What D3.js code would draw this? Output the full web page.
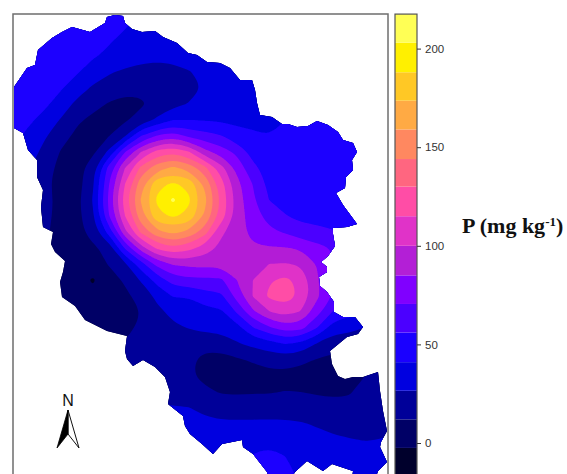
<!DOCTYPE html>
<html>
<head>
<meta charset="utf-8">
<script src="https://cdn.jsdelivr.net/npm/d3@7"></script>
<style>
body { margin: 0; background: #fff; }
svg { display: block; }
</style>
</head>
<body>
<svg id="viz"></svg>
<script>
// band edges of the colour key, mg/kg
const levelBreaks = [-17, -2.5, 12, 26.5, 41, 56, 70.5, 85, 100, 115, 130, 144, 159, 173.6, 188, 203, 217.5];
const bandColors = ['#00002c', '#000066', '#000099', '#0000e0', '#1a00ff', '#4b00ff', '#8000ff', '#b31fd6',
    '#e033c8', '#ff4da6', '#ff6680', '#ff8860', '#ffaa44', '#ffc825', '#fff000', '#ffff55'];
const keyTicks = [0, 50, 100, 150, 200];

// P on a regular grid, 16 map units apart, one line per row going south
const pGrid = [
    [50,50,50,50,50,49,47,44,42,41,40,40,40,40,40,40,40,40,40,40,40,40,40,40,40],
    [50,50,50,50,49,47,45,42,39,37,36,36,36,36,36,36,37,37,38,38,38,38,38,38,38],
    [50,50,50,48,47,45,42,39,37,35,34,34,34,35,35,35,36,36,37,38,38,38,38,38,38],
    [50,49,47,45,43,42,39,35,31,30,30,31,32,33,34,35,35,36,37,37,38,38,38,38,38],
    [50,47,45,43,42,36,28,24,22,21,23,26,29,31,33,34,35,35,36,37,38,38,38,38,38],
    [47,45,44,42,35,24,19,15,15,18,21,24,27,31,34,35,35,36,37,38,38,38,38,38,38],
    [46,44,43,36,22,16,11,9,10,17,22,27,31,33,34,35,36,37,38,39,40,40,40,40,40],
    [46,43,37,25,14,9,8,10,18,29,41,41,40,39,38,38,38,41,43,44,44,44,44,44,44],
    [44,38,28,17,9,7,12,26,56,72,79,67,62,57,46,43,41,44,45,46,46,46,46,46,46],
    [42,33,22,11,6,9,30,70,100,121,128,116,90,78,67,50,46,47,47,47,47,47,47,47,47],
    [40,28,16,9,5,22,62,100,134,152,162,153,134,106,80,60,49,48,48,48,48,48,48,48,48],
    [38,26,15,7,5,25,70,115,153,185,190,185,155,122,90,70,52,49,49,49,49,49,49,49,49],
    [35,24,15,9,8,28,75,124,160,190,206,190,163,127,93,73,56,50,49,49,49,49,49,49,49],
    [34,24,15,8,7,25,70,115,153,185,190,185,156,124,93,77,65,57,52,51,50,50,50,50,50],
    [33,23,14,7,6,19,47,96,133,155,163,155,136,103,92,80,74,69,62,60,57,54,53,52,52],
    [32,22,13,6,5,9,18,58,93,118,128,120,108,96,92,87,86,86,83,75,70,62,56,54,53],
    [31,21,12,5,4,5,13,24,50,75,87,89,90,89,90,92,100,101,98,84,70,62,56,54,53],
    [30,20,10,5,2,-4,6,14,28,47,63,67,67,68,85,100,113,119,110,87,70,62,56,54,53],
    [30,20,10,5,3,1,4,9,17,30,42,42,50,53,76,101,118,124,112,88,70,62,56,54,53],
    [30,20,10,6,4,3,4,8,12,23,30,33,36,38,58,82,99,106,99,76,55,45,44,44,44],
    [30,20,10,6,5,5,6,9,14,20,24,27,31,32,35,55,68,78,75,56,33,31,26,26,26],
    [30,20,12,8,8,9,10,13,16,18,18,17,15,17,25,30,34,41,38,25,18,17,17,18,18],
    [30,20,14,10,10,11,12,14,15,15,15,14,9,8,10,13.5,18,19,15,11,8,7,8,10,11],
    [30,20,15,12,12,13,14,14,15,15,15,14,8,5,5,6,7,7,7,7,6,6,12,16,17],
    [30,25,22,20,20,20,20,20,20,19,18,17,15,11,10.5,11,11,12.5,12,11,10.5,11,16,19,20],
    [30,29,29,29,29,29,29,29,29,29,28,27,22,20,19,20,20,20,18,16,15,15,19,22,23],
    [31,31,31,31,31,31,31,31,31,31,31,31,31,29,29,29,29,29,28,25,22,20,20,22,24],
    [33,33,33,33,33,33,33,33,33,33,33,33,34,35,37,38,38,37,34,32,29,27.5,26,27,28],
    [33,33,33,33,33,33,33,33,33,33,33,33,34,36,38,41.5,44,41,37,35,34,33,33,33,33],
    [34,34,34,34,34,34,34,34,34,34,34,34,35,37,39,44,47,44,39,36,35,34,34,34,34],
    [34,34,34,34,34,34,34,34,34,34,34,34,35,37,40,45,47,45,40,37,35,34,34,34,34]
];
const gridStep = 16;
const gridOriginEast = 0;
const gridOriginSouth = -6;

// catchment boundary, map units from the frame's top left corner
const basinOutline = [
    [102,1],[110,2],[112,9],[119,15],[129,18],[142,17],[150,23],[164,29],[175,39],[184,41],[194,48],[207,49],
    [217,54],[227,66],[239,66],[242,76],[244,89],[247,101],[259,103],[269,110],[275,110],[284,113],[295,112],
    [304,107],[315,111],[325,118],[330,126],[340,129],[344,138],[339,146],[340,156],[333,163],[332,174],[323,179],
    [330,191],[344,210],[334,213],[320,214],[320,220],[322,232],[315,242],[308,248],[314,253],[314,258],[306,263],
    [307,272],[314,278],[321,288],[321,298],[330,303],[342,303],[350,313],[345,320],[334,323],[317,337],[319,350],
    [325,362],[332,365],[340,363],[350,363],[365,358],[367,377],[370,397],[374,417],[368,428],[367,433],[374,448],
    [365,457],[362,466],[339,466],[340,457],[319,450],[310,457],[294,447],[282,458],[277,466],[257,466],[254,458],
    [240,440],[230,433],[229,426],[209,430],[200,440],[189,430],[177,420],[172,412],[170,402],[155,390],[157,378],
    [152,363],[142,353],[130,346],[120,352],[114,345],[112,337],[114,322],[94,317],[72,306],[62,292],[49,283],
    [47,268],[50,258],[52,247],[42,238],[38,230],[40,218],[30,213],[28,193],[30,176],[24,163],[24,146],[15,136],
    [10,119],[1,114],[1,73],[14,54],[22,51],[25,36],[39,24],[49,18],[59,13],[77,18],[92,9],[94,3]
];

// north arrow: tip, left foot, notch, right foot
const arrowPoints = [[55,396],[44,434],[55,420],[66,434]];

const width = 567;
const height = 474;
const svg = d3.select("#viz").attr("width", width).attr("height", height);

const mapX = d3.scaleLinear().domain([0, 375]).range([13, 388]);
const mapY = d3.scaleLinear().domain([0, 460]).range([14, 474]);

const nCols = pGrid[0].length;
const nRows = pGrid.length;

// d3.contours puts grid node i at i + 0.5
const contourX = v => mapX(gridOriginEast + (v - 0.5) * gridStep);
const contourY = v => mapY(gridOriginSouth + (v - 0.5) * gridStep);

const ringLine = d3.line()
    .x(d => contourX(d[0]))
    .y(d => contourY(d[1]))
    .curve(d3.curveBasisClosed);

const outlineLine = d3.line()
    .x(d => mapX(d[0]))
    .y(d => mapY(d[1]))
    .curve(d3.curveLinearClosed);

svg.append("clipPath").attr("id", "basin-clip")
    .append("path").attr("d", outlineLine(basinOutline));

// the source picture is a soft scan
svg.append("filter").attr("id", "soft")
    .append("feGaussianBlur").attr("stdDeviation", 0.6);

const contours = d3.contours()
    .size([nCols, nRows])
    .thresholds(levelBreaks.slice(0, -1))
    (pGrid.flat());

const bands = svg.append("g").attr("filter", "url(#soft)")
    .append("g").attr("clip-path", "url(#basin-clip)");

bands.selectAll("path")
    .data(contours)
    .join("path")
    .attr("fill", (d, i) => bandColors[i])
    .attr("fill-rule", "evenodd")
    .attr("d", d => d.coordinates.flat().map(ring => ringLine(ring.slice(0, -1))).join(""));

// map frame, the page cuts it off at the bottom
svg.append("rect")
    .attr("x", mapX(0)).attr("y", mapY(0))
    .attr("width", mapX(375) - mapX(0)).attr("height", height + 20)
    .attr("fill", "none").attr("stroke", "#6e6e6e").attr("stroke-width", 1.5);

// north arrow
const arrowLine = d3.line().x(d => mapX(d[0])).y(d => mapY(d[1]));
const [tip, footL, notch, footR] = arrowPoints;
svg.append("path").attr("d", arrowLine([tip, footR, notch]) + "Z")
    .attr("fill", "#fff").attr("stroke", "#111").attr("stroke-width", 1);
svg.append("path").attr("d", arrowLine([tip, footL, notch]) + "Z")
    .attr("fill", "#000").attr("stroke", "#000").attr("stroke-width", 0.8);
svg.append("text")
    .attr("x", mapX(tip[0])).attr("y", mapY(tip[1]) - 4)
    .attr("text-anchor", "middle")
    .attr("font-family", "Liberation Sans")
    .attr("font-size", 16)
    .attr("fill", "#111")
    .text("N");

// colour key
const keyY = d3.scaleLinear().domain([0, 200]).range([443, 48.6]);
const keyLeft = 395;
const keyRight = 417;
const keyBands = d3.pairs(levelBreaks);

svg.append("g").selectAll("rect")
    .data(keyBands)
    .join("rect")
    .attr("x", keyLeft)
    .attr("width", keyRight - keyLeft)
    .attr("y", d => keyY(d[1]))
    .attr("height", d => keyY(d[0]) - keyY(d[1]))
    .attr("fill", (d, i) => bandColors[i]);

svg.append("rect")
    .attr("x", keyLeft).attr("y", keyY(217.5))
    .attr("width", keyRight - keyLeft)
    .attr("height", keyY(-17) - keyY(217.5))
    .attr("fill", "none").attr("stroke", "#555").attr("stroke-width", 1.2);

const keyAxis = d3.axisRight(keyY).tickValues(keyTicks).tickSize(4).tickPadding(4);
const axisG = svg.append("g").attr("transform", `translate(${keyRight},0)`).call(keyAxis);
axisG.select(".domain").remove();
axisG.selectAll("line").attr("stroke", "#333");
axisG.selectAll("text")
    .attr("font-family", "Liberation Sans")
    .attr("font-size", 11.5)
    .attr("fill", "#333");

// key title
const title = svg.append("text")
    .attr("x", 462).attr("y", 233)
    .attr("font-family", "Liberation Serif")
    .attr("font-weight", "bold")
    .attr("font-size", 22)
    .attr("fill", "#111");
title.append("tspan").text("P (mg kg");
title.append("tspan").attr("dy", -7).attr("font-size", 13).text("-1");
title.append("tspan").attr("dy", 7).text(")");
</script>
</body>
</html>
